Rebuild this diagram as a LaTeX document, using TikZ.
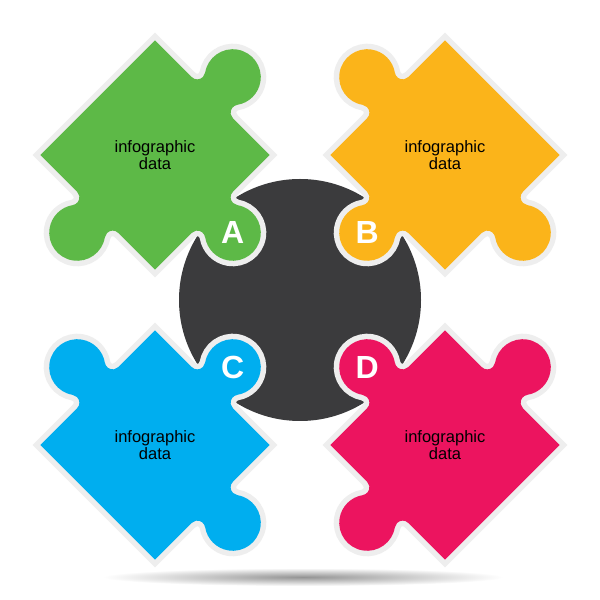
\documentclass[tikz,border=0pt]{standalone}
\usepackage{fontspec}
\setmainfont{Liberation Sans}
\definecolor{pgreen}{HTML}{5DB947}
\definecolor{pyellow}{HTML}{FBB41A}
\definecolor{pcyan}{HTML}{00AEEF}
\definecolor{pmag}{HTML}{EC145F}
\definecolor{hubcol}{HTML}{3B3B3D}
\definecolor{rim}{HTML}{EEEEEE}
\newcommand\knobshape[1]{\path[#1] (-29.24,81) arc[start angle=270,end angle=395.68,radius=8]
  arc[start angle=215.68,end angle=-35.68,radius=28]
  arc[start angle=144.32,end angle=270,radius=8] -- (29.24,70) -- (-29.24,70) -- cycle;}
\newcommand\puzzlepiece[4]{%
  \begin{scope}[shift={(#1,#2)},rotate=45]
    \foreach \t in {#4} {\knobshape{rotate=\t,draw=rim,line width=11pt}}
    \draw[rim,line width=11pt] (-81,-81) rectangle (81,81);
    \foreach \t in {#4} {\knobshape{rotate=\t,fill=#3}}
    \fill[#3] (-81,-81) rectangle (81,81);
  \end{scope}}
\tikzset{
  infotext/.style={align=center,text=black,font=\fontsize{16.5}{17}\selectfont,inner sep=0pt},
  letter/.style={text=white,font=\fontsize{32}{32}\selectfont\bfseries,inner sep=0pt}
}
\begin{document}
\begin{tikzpicture}[x=1pt,y=1pt]
  \useasboundingbox[fill=white] (0,0) rectangle (600,600);
  % shadow
  \shade[inner color=black!42,outer color=white] (303,23) ellipse [x radius=200,y radius=9];
  % hub
  \fill[hubcol] (300,300) circle [radius=121];
  \node[circle,minimum size=242pt,inner sep=0pt] (hub) at (300,300) {};
  % pieces
  \puzzlepiece{155}{445}{pgreen}{-90,180,90}
  \puzzlepiece{445}{445}{pyellow}{0,180,90}
  \puzzlepiece{155}{155}{pcyan}{0,180,-90}
  \puzzlepiece{445}{155}{pmag}{0,-90,90}
  % texts
  \node[infotext] (tA) at (155,445) {infographic\\data};
  \node[infotext] (tB) at (445,445) {infographic\\data};
  \node[infotext] (tC) at (155,155) {infographic\\data};
  \node[infotext] (tD) at (445,155) {infographic\\data};
  % letters
  \node[letter] (lA) at (232.8,367.2) {A};
  \node[letter] (lB) at (367.2,367.2) {B};
  \node[letter] (lC) at (232.8,232.8) {C};
  \node[letter] (lD) at (367.2,232.8) {D};
\end{tikzpicture}
\end{document}
